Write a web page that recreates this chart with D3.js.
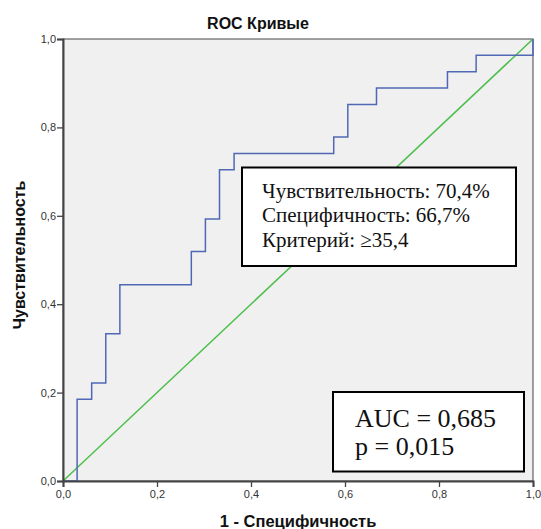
<!DOCTYPE html>
<html><head><meta charset="utf-8">
<script src="https://cdn.jsdelivr.net/npm/d3@7"></script>
<style>body{margin:0;background:#fff;}</style>
</head><body>
<svg id="c" width="541" height="529"></svg>
<script>
const fprValues = [0, 0.030, 0.061, 0.091, 0.121, 0.273, 0.303, 0.333, 0.364, 0.576, 0.606, 0.667, 0.818, 0.879, 1.0];
const tprValues = [0, 0.185, 0.222, 0.333, 0.444, 0.519, 0.593, 0.704, 0.741, 0.778, 0.852, 0.889, 0.926, 0.963, 1.0];
const refLine = [0, 1];
const tickValues = [0, 0.2, 0.4, 0.6, 0.8, 1.0];
const titleText = "ROC Кривые";
const xLabel = "1 - Специфичность";
const yLabel = "Чувствительность";
const criterionLines = ["Чувствительность: 70,4%", "Специфичность: 66,7%", "Критерий: ≥35,4"];
const aucLines = ["AUC = 0,685", "p = 0,015"];

const svg = d3.select("#c");
const L = 63, R = 533, T = 39, B = 481;
const x = d3.scaleLinear().domain([0, 1]).range([L, R]);
const y = d3.scaleLinear().domain([0, 1]).range([B, T]);
const fmt = d => d3.format(".1f")(d).replace(".", ",");

svg.append("rect").attr("x", L).attr("y", T).attr("width", R - L).attr("height", B - T)
  .attr("fill", "#f0f0f0").attr("stroke", "#444").attr("stroke-width", 1);

// reference diagonal
svg.append("line").attr("x1", x(refLine[0])).attr("y1", y(refLine[0]))
  .attr("x2", x(refLine[1])).attr("y2", y(refLine[1]))
  .attr("stroke", "#4cbf4c").attr("stroke-width", 1.5);

// ROC step curve
const pts = fprValues.map((f, i) => [f, tprValues[i]]);
svg.append("path").datum(pts)
  .attr("d", d3.line().x(d => x(d[0])).y(d => y(d[1])).curve(d3.curveStepAfter))
  .attr("fill", "none").attr("stroke", "#5068b4").attr("stroke-width", 1.5);

// axes
const xAxis = d3.axisBottom(x).tickValues(tickValues).tickFormat(fmt).tickSize(6).tickPadding(3);
const yAxis = d3.axisLeft(y).tickValues(tickValues).tickFormat(fmt).tickSize(6).tickPadding(1);
const gx = svg.append("g").attr("transform", `translate(0,${B})`).call(xAxis);
const gy = svg.append("g").attr("transform", `translate(${L},0)`).call(yAxis);
[gx, gy].forEach(g => {
  g.select(".domain").attr("stroke", "#444").attr("stroke-width", 2);
  g.selectAll(".tick line").attr("stroke", "#444").attr("stroke-width", 1.3);
  g.selectAll(".tick text").attr("fill", "#333").style("font-family", "Arial, 'Liberation Sans', sans-serif").style("font-size", "11px");
});

// title + labels
svg.append("text").attr("x", 258).attr("y", 29).attr("text-anchor", "middle")
  .style("font-family", "Arial, 'Liberation Sans', sans-serif").style("font-weight", "bold").style("font-size", "16px")
  .attr("fill", "#111").text(titleText);
svg.append("text").attr("x", (L + R) / 2).attr("y", 527).attr("text-anchor", "middle")
  .style("font-family", "Arial, 'Liberation Sans', sans-serif").style("font-weight", "bold").style("font-size", "16.5px")
  .attr("fill", "#111").text(xLabel);
svg.append("text").attr("transform", `translate(25,${(T + B) / 2 - 5}) rotate(-90)`).attr("text-anchor", "middle")
  .style("font-family", "Arial, 'Liberation Sans', sans-serif").style("font-weight", "bold").style("font-size", "16px")
  .attr("fill", "#111").text(yLabel);

// criterion box
svg.append("rect").attr("x", 242).attr("y", 167.5).attr("width", 274).attr("height", 98.5)
  .attr("fill", "#fff").attr("stroke", "#000").attr("stroke-width", 2);
svg.append("g").selectAll("text").data(criterionLines).join("text")
  .attr("x", 262).attr("y", (d, i) => 197.5 + i * 24.5)
  .style("font-family", "'Liberation Serif', 'Times New Roman', serif").style("font-size", "21px")
  .attr("fill", "#111").text(d => d);

// AUC box
svg.append("rect").attr("x", 333).attr("y", 392).attr("width", 191).attr("height", 79.5)
  .attr("fill", "#fff").attr("stroke", "#000").attr("stroke-width", 2);
svg.append("g").selectAll("text").data(aucLines).join("text")
  .attr("x", 355).attr("y", (d, i) => 426.5 + i * 28.5)
  .style("font-family", "'Liberation Serif', 'Times New Roman', serif").style("font-size", "26px")
  .attr("fill", "#111").text(d => d);
</script>
</body></html>
